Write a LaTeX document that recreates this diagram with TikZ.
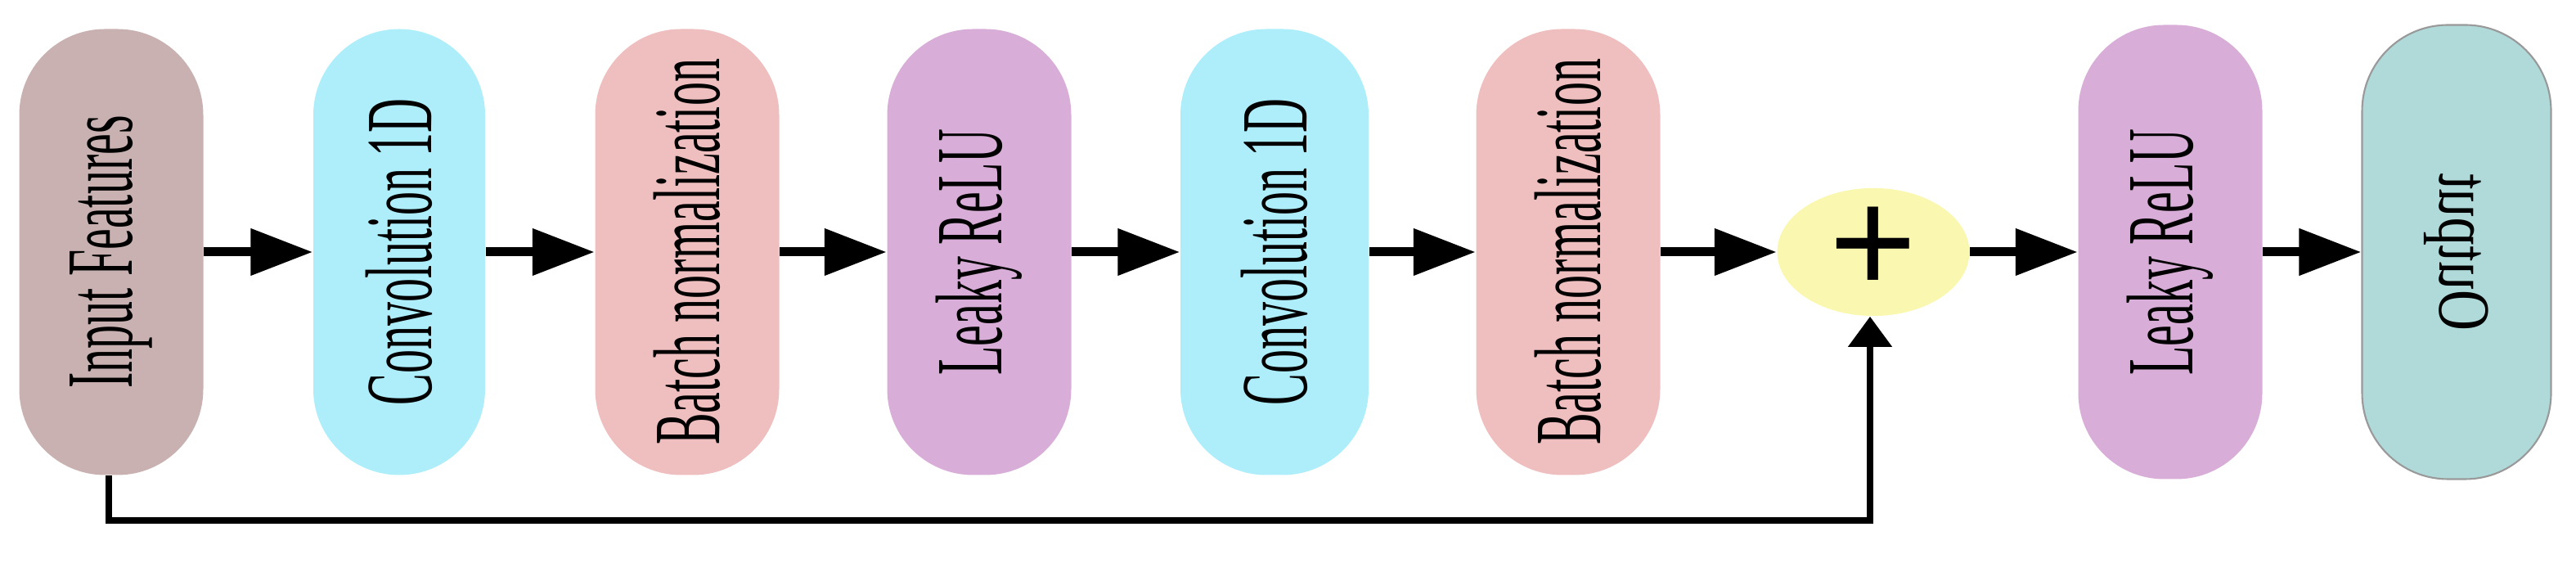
\documentclass[tikz,border=0pt]{standalone}
\usepackage{fontspec}
\setmainfont{Liberation Serif}
\newfontfamily\plusfont{Liberation Sans}
\usetikzlibrary{arrows.meta,shapes.geometric}
\definecolor{cin}{HTML}{C9B1B1}
\definecolor{cconv}{HTML}{AEEEFB}
\definecolor{cbn}{HTML}{EFBEBE}
\definecolor{clk}{HTML}{D8AED8}
\definecolor{cadd}{HTML}{FAF8B0}
\definecolor{cout}{HTML}{B0DADA}
\newcommand{\sq}[1]{\fontsize{33}{33}\selectfont\scalebox{0.5}[1]{#1}}
\begin{document}
\begin{tikzpicture}[x=1cm,y=1cm,
  box/.style={rounded corners=1.05cm, minimum width=5.45cm, minimum height=2.25cm, inner sep=0pt, rotate=90, draw=none},
  arr/.style={line width=0.11cm, -{Triangle[length=0.76cm,width=0.55cm]}},
  skip/.style={line width=0.08cm}]
\useasboundingbox (0,0) rectangle (31.49,6.88);
\node[box, fill=cin] (in) at (1.36,3.8) {\sq{Input Features}};
\node[box, fill=cconv, minimum height=2.1cm] (c1) at (4.88,3.8) {\sq{Convolution 1D}};
\node[box, fill=cbn] (b1) at (8.40,3.8) {\sq{Batch normalization}};
\node[box, fill=clk] (l1) at (11.97,3.8) {\sq{Leaky ReLU}};
\node[box, fill=cconv, minimum height=2.3cm] (c2) at (15.58,3.8) {\sq{Convolution 1D}};
\node[box, fill=cbn] (b2) at (19.17,3.8) {\sq{Batch normalization}};
\node[ellipse, fill=cadd, minimum width=2.35cm, minimum height=1.39cm, inner sep=0pt] (add) at (22.90,3.8) {\plusfont\fontsize{52}{52}\selectfont\raisebox{0.05cm}{+}};
\node[box, fill=clk, minimum width=5.55cm] (l2) at (26.53,3.8) {\sq{Leaky ReLU}};
\node[box, fill=cout, draw=gray!80, line width=0.6pt, minimum width=5.55cm, minimum height=2.31cm] (out) at (30.03,3.8) {\fontsize{25.6}{25.6}\selectfont\scalebox{0.77}[-1]{Output}};
\draw[arr] (in) -- (c1);
\draw[arr] (c1) -- (b1);
\draw[arr] (b1) -- (l1);
\draw[arr] (l1) -- (c2);
\draw[arr] (c2) -- (b2);
\draw[arr] (b2) -- (add);
\draw[arr] (add) -- (l2);
\draw[arr] (l2) -- (out);
\coordinate (k1) at (1.33,0.52);
\coordinate (k2) at (22.86,0.52);
\draw[skip, -{Triangle[length=0.37cm,width=0.52cm]}] (in.west -| k1) -- (k1) -- (k2) -- (add.south -| k2);
\end{tikzpicture}
\end{document}
